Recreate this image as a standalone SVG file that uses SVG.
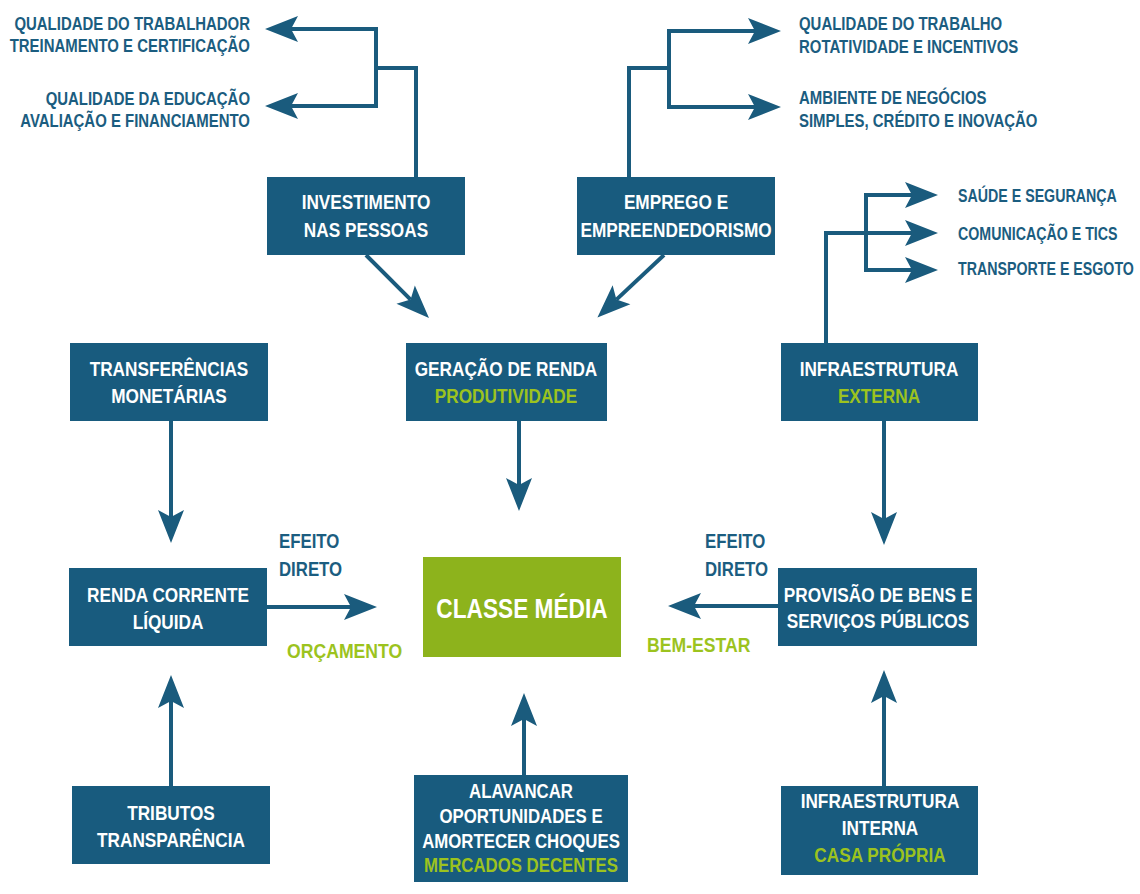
<svg xmlns="http://www.w3.org/2000/svg" width="1140" height="894" viewBox="0 0 1140 894">
<defs>
<style>
.box{fill:#185b7e}
.cm{fill:#8db31c}
.t{font-family:"Liberation Sans",Arial,sans-serif;font-weight:bold}
.w{fill:#ffffff;font-size:21px;text-anchor:middle}
.g{fill:#9cc31e;font-size:21px;text-anchor:middle}
.lb{fill:#1b5d80;font-size:18px}
.lg{fill:#9cc31e;font-size:21px}
.le{fill:#1b5d80;font-size:20px}
.ln{stroke:#1a5b7d;stroke-width:4;fill:none;stroke-linejoin:miter}
</style>
<marker id="ah" markerUnits="userSpaceOnUse" viewBox="-8 -14 35 28" markerWidth="35" markerHeight="28" refX="0" refY="0" orient="auto-start-reverse">
<path d="M26,0 L-7,-13 L0,0 L-7,13 Z" fill="#1a5b7d"/>
</marker>
</defs>
<rect width="1140" height="894" fill="#ffffff"/>

<g id="connectors">
<path class="ln" d="M416,177 V68 H376"/>
<path class="ln" d="M291,29 H376 V106 H291" marker-start="url(#ah)" marker-end="url(#ah)"/>
<path class="ln" d="M629,177 V68 H669"/>
<path class="ln" d="M755,31 H669 V107 H755" marker-start="url(#ah)" marker-end="url(#ah)"/>
<path class="ln" d="M826,343 V233 H912" marker-end="url(#ah)"/>
<path class="ln" d="M912,195 H866 V270 H912" marker-start="url(#ah)" marker-end="url(#ah)"/>
<path class="ln" d="M366,255 L410.6,299.6" marker-end="url(#ah)"/>
<path class="ln" d="M664,255 L616.4,299.6" marker-end="url(#ah)"/>
<path class="ln" d="M171,421 V517" marker-end="url(#ah)"/>
<path class="ln" d="M519,421 V485" marker-end="url(#ah)"/>
<path class="ln" d="M884,421 V519" marker-end="url(#ah)"/>
<path class="ln" d="M267,607 H351" marker-end="url(#ah)"/>
<path class="ln" d="M778,606 H694" marker-end="url(#ah)"/>
<path class="ln" d="M171,786 V701" marker-end="url(#ah)"/>
<path class="ln" d="M524,775 V719" marker-end="url(#ah)"/>
<path class="ln" d="M884,786 V696" marker-end="url(#ah)"/>
</g>

<g id="labels" class="t">
<text class="lb" text-anchor="end" transform="translate(250 30) scale(.83 1)">QUALIDADE DO TRABALHADOR</text>
<text class="lb" text-anchor="end" transform="translate(250 52) scale(.83 1)">TREINAMENTO E CERTIFICAÇÃO</text>
<text class="lb" text-anchor="end" transform="translate(250 105) scale(.83 1)">QUALIDADE DA EDUCAÇÃO</text>
<text class="lb" text-anchor="end" transform="translate(250 127) scale(.83 1)">AVALIAÇÃO E FINANCIAMENTO</text>
<text class="lb" transform="translate(799 30) scale(.83 1)">QUALIDADE DO TRABALHO</text>
<text class="lb" transform="translate(799 53) scale(.83 1)">ROTATIVIDADE E INCENTIVOS</text>
<text class="lb" transform="translate(799 104) scale(.83 1)">AMBIENTE DE NEGÓCIOS</text>
<text class="lb" transform="translate(799 127) scale(.83 1)">SIMPLES, CRÉDITO E INOVAÇÃO</text>
<text class="lb" transform="translate(958 202) scale(.79 1)">SAÚDE E SEGURANÇA</text>
<text class="lb" transform="translate(958 240) scale(.79 1)">COMUNICAÇÃO E TICS</text>
<text class="lb" transform="translate(958 275) scale(.79 1)">TRANSPORTE E ESGOTO</text>
<text class="le" transform="translate(279 548) scale(.84 1)">EFEITO</text>
<text class="le" transform="translate(279 576) scale(.84 1)">DIRETO</text>
<text class="le" transform="translate(705 548) scale(.84 1)">EFEITO</text>
<text class="le" transform="translate(705 576) scale(.84 1)">DIRETO</text>
<text class="lg" transform="translate(287 658) scale(.84 1)">ORÇAMENTO</text>
<text class="lg" transform="translate(647 652) scale(.84 1)">BEM-ESTAR</text>
</g>

<g id="investimento" class="t">
<rect class="box" x="267" y="177" width="198" height="78"/>
<text class="w" transform="translate(366 209) scale(.82 1)">INVESTIMENTO</text>
<text class="w" transform="translate(366 237) scale(.82 1)">NAS PESSOAS</text>
</g>
<g id="emprego" class="t">
<rect class="box" x="577" y="177" width="198" height="78"/>
<text class="w" transform="translate(676 209) scale(.82 1)">EMPREGO E</text>
<text class="w" transform="translate(676 237) scale(.82 1)">EMPREENDEDORISMO</text>
</g>
<g id="transferencias" class="t">
<rect class="box" x="70" y="343" width="198" height="78"/>
<text class="w" transform="translate(169 376) scale(.82 1)">TRANSFERÊNCIAS</text>
<text class="w" transform="translate(169 403) scale(.82 1)">MONETÁRIAS</text>
</g>
<g id="geracao" class="t">
<rect class="box" x="406" y="343" width="201" height="78"/>
<text class="w" transform="translate(506 376) scale(.82 1)">GERAÇÃO DE RENDA</text>
<text class="g" transform="translate(506 403) scale(.82 1)">PRODUTIVIDADE</text>
</g>
<g id="infra-externa" class="t">
<rect class="box" x="781" y="343" width="197" height="78"/>
<text class="w" transform="translate(879 376) scale(.82 1)">INFRAESTRUTURA</text>
<text class="g" transform="translate(879 403) scale(.82 1)">EXTERNA</text>
</g>
<g id="renda" class="t">
<rect class="box" x="69" y="568" width="198" height="78"/>
<text class="w" transform="translate(168 602) scale(.82 1)">RENDA CORRENTE</text>
<text class="w" transform="translate(168 629) scale(.82 1)">LÍQUIDA</text>
</g>
<g id="classe-media" class="t">
<rect class="cm" x="423" y="557" width="198" height="100"/>
<text class="w" style="font-size:28px" transform="translate(522 618) scale(.81 1)">CLASSE MÉDIA</text>
</g>
<g id="provisao" class="t">
<rect class="box" x="778" y="568" width="199" height="78"/>
<text class="w" transform="translate(878 602) scale(.82 1)">PROVISÃO DE BENS E</text>
<text class="w" transform="translate(878 628) scale(.82 1)">SERVIÇOS PÚBLICOS</text>
</g>
<g id="tributos" class="t">
<rect class="box" x="72" y="786" width="198" height="78"/>
<text class="w" transform="translate(171 820) scale(.82 1)">TRIBUTOS</text>
<text class="w" transform="translate(171 847) scale(.82 1)">TRANSPARÊNCIA</text>
</g>
<g id="alavancar" class="t">
<rect class="box" x="414" y="775" width="214" height="107"/>
<text class="w" transform="translate(521 798) scale(.8 1)">ALAVANCAR</text>
<text class="w" transform="translate(521 823) scale(.8 1)">OPORTUNIDADES E</text>
<text class="w" transform="translate(521 848) scale(.8 1)">AMORTECER CHOQUES</text>
<text class="g" transform="translate(521 872) scale(.8 1)">MERCADOS DECENTES</text>
</g>
<g id="infra-interna" class="t">
<rect class="box" x="781" y="786" width="197" height="89"/>
<text class="w" transform="translate(880 808) scale(.82 1)">INFRAESTRUTURA</text>
<text class="w" transform="translate(880 835) scale(.82 1)">INTERNA</text>
<text class="g" transform="translate(880 862) scale(.82 1)">CASA PRÓPRIA</text>
</g>
</svg>
